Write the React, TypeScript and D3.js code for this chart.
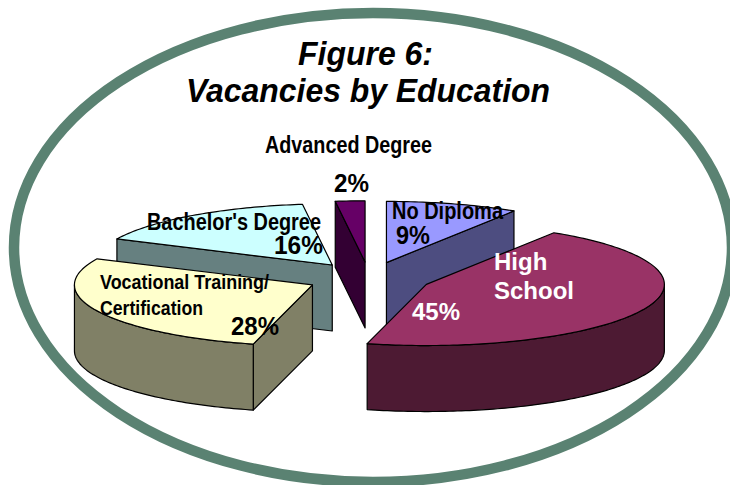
import React from "react";
import * as d3 from "d3";

const categories = ["No Diploma", "High School", "Vocational Training/Certification", "Bachelor's Degree", "Advanced Degree"];
const shares = [9, 45, 28, 16, 2];
const topColors = ["#9999ff", "#993366", "#ffffcc", "#ccffff", "#660066"];
const wallColors = ["#4d4d80", "#4d1a33", "#808066", "#668080", "#330033"];

const CX = 369;
const CY = 278;
const R = 238;
const TILT = 0.257;
const EXPLODE = 62.5;
const DEPTH = 66;

type Pt = [number, number];

const line = d3.line<Pt>();

// clockwise from twelve o'clock, same as d3.pie
const project = (ax: number, ay: number, a: number, r: number): Pt => [
  ax + r * Math.sin(a),
  ay - r * TILT * Math.cos(a),
];

const arcPoints = (ax: number, ay: number, a0: number, a1: number): Pt[] => {
  const n = Math.max(2, Math.ceil(((a1 - a0) * 180) / Math.PI));
  return d3.range(n + 1).map((i) => project(ax, ay, a0 + ((a1 - a0) * i) / n, R));
};

const down = (pts: Pt[]): Pt[] => pts.map(([x, y]) => [x, y + DEPTH] as Pt).reverse();

export default function App() {
  const slices = d3
    .pie<number>()
    .sort(null)
    .startAngle(0)
    .endAngle(2 * Math.PI)(shares);

  // paint the slices furthest back first
  const order = d3.range(slices.length).sort((a, b) => {
    const mid = (i: number) => (slices[i].startAngle + slices[i].endAngle) / 2;
    return Math.cos(mid(b)) - Math.cos(mid(a));
  });

  return (
    <svg width={730} height={485} style={{ position: "absolute", left: 0, top: 0 }} fontFamily="'Liberation Sans', Arial, sans-serif">
      <ellipse cx={373} cy={247.5} rx={359} ry={234.5} fill="white" stroke="#5a8272" strokeWidth={10.5} />

      {order.map((i) => {
        const s = slices[i];
        const mid = (s.startAngle + s.endAngle) / 2;
        const ax = CX + EXPLODE * Math.sin(mid);
        const ay = CY - EXPLODE * TILT * Math.cos(mid);
        const apex: Pt = [ax, ay];
        const walls: Pt[][] = [];

        // side walls only when they face the viewer
        if (Math.sin(s.startAngle) < -1e-6) {
          const edge = [apex, project(ax, ay, s.startAngle, R)];
          walls.push([...edge, ...down(edge)]);
        }
        if (Math.sin(s.endAngle) > 1e-6) {
          const edge = [apex, project(ax, ay, s.endAngle, R)];
          walls.push([...edge, ...down(edge)]);
        }
        const from = Math.max(s.startAngle, Math.PI / 2);
        const to = Math.min(s.endAngle, (3 * Math.PI) / 2);
        if (to > from) {
          const rim = arcPoints(ax, ay, from, to);
          walls.push([...rim, ...down(rim)]);
        }
        const top = [apex, ...arcPoints(ax, ay, s.startAngle, s.endAngle)];

        return (
          <g key={categories[i]} stroke="black" strokeWidth={1.2} strokeLinejoin="round">
            {walls.map((w, j) => (
              <path key={j} d={line(w) + "Z"} fill={wallColors[i]} />
            ))}
            <path d={line(top) + "Z"} fill={topColors[i]} />
          </g>
        );
      })}

      <g fontWeight="bold" fontStyle="italic" fontSize={33} fill="black">
        <text x={298} y={65} textLength={135} lengthAdjust="spacingAndGlyphs">Figure 6:</text>
        <text x={186} y={102} textLength={364} lengthAdjust="spacingAndGlyphs">Vacancies by Education</text>
      </g>

      <g fontWeight="bold" fill="black">
        <text x={265} y={153} fontSize={23} textLength={167} lengthAdjust="spacingAndGlyphs">Advanced Degree</text>
        <text x={334} y={192} fontSize={25} textLength={35} lengthAdjust="spacingAndGlyphs">2%</text>
        <text x={147} y={230} fontSize={23} textLength={174} lengthAdjust="spacingAndGlyphs">Bachelor's Degree</text>
        <text x={274} y={254} fontSize={26} textLength={49} lengthAdjust="spacingAndGlyphs">16%</text>
        <text x={100} y={289} fontSize={21} textLength={169} lengthAdjust="spacingAndGlyphs">Vocational Training/</text>
        <text x={100} y={315} fontSize={21} textLength={103} lengthAdjust="spacingAndGlyphs">Certification</text>
        <text x={231} y={335} fontSize={25} textLength={48} lengthAdjust="spacingAndGlyphs">28%</text>
        <text x={392} y={219} fontSize={23} textLength={111} lengthAdjust="spacingAndGlyphs">No Diploma</text>
        <text x={396} y={244} fontSize={25} textLength={34} lengthAdjust="spacingAndGlyphs">9%</text>
      </g>
      <g fontWeight="bold" fill="white" fontSize={24}>
        <text x={494} y={270}>High</text>
        <text x={494} y={299}>School</text>
        <text x={412} y={320} fontSize={24}>45%</text>
      </g>
    </svg>
  );
}
